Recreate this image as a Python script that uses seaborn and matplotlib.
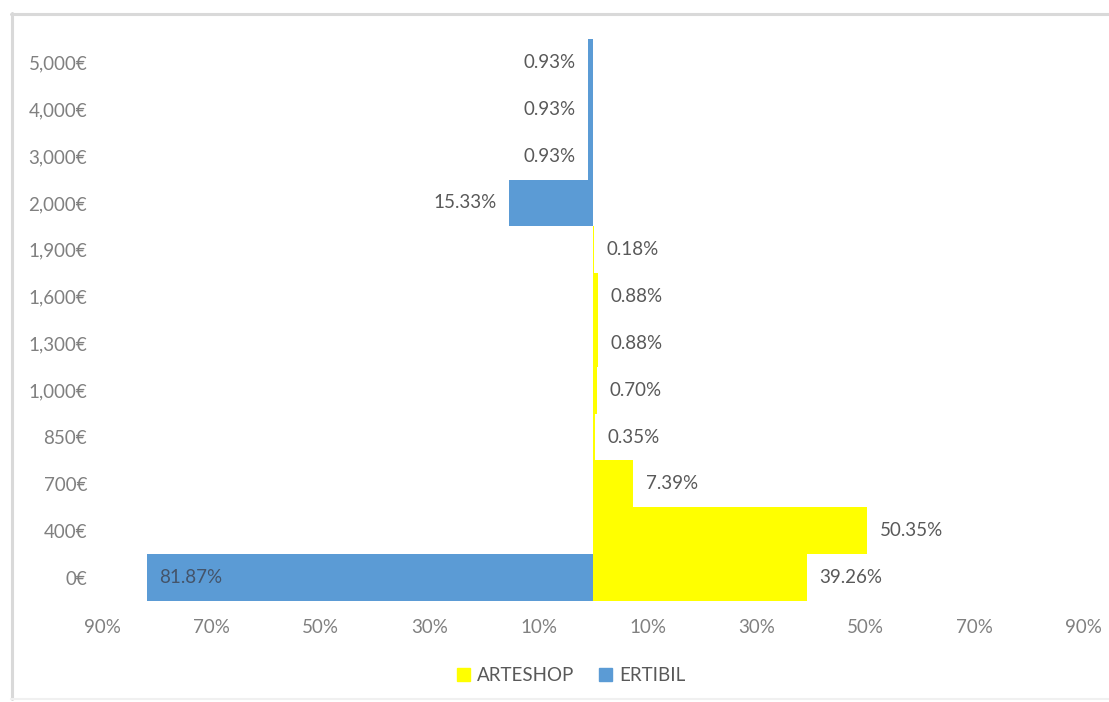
import matplotlib
matplotlib.use("Agg")
import matplotlib.pyplot as plt
import matplotlib.patches as mpatches
from matplotlib.lines import Line2D
import seaborn as sns
import pandas as pd

# Income brackets, bottom to top
brackets = ["0€", "400€", "700€", "850€", "1,000€", "1,300€", "1,600€",
            "1,900€", "2,000€", "3,000€", "4,000€", "5,000€"]
# Share of each bracket (%)
arteshop = [39.26, 50.35, 7.39, 0.35, 0.70, 0.88, 0.88, 0.18, 0, 0, 0, 0]
ertibil = [81.87, 0, 0, 0, 0, 0, 0, 0, 15.33, 0.93, 0.93, 0.93]

x_ticks = [-90, -70, -50, -30, -10, 10, 30, 50, 70, 90]

YELLOW = "#FFFF00"
BLUE = "#5B9BD5"
TEXT = "#595959"
TICK = "#808080"
FS = 13.5

sns.set_theme(style="white")
plt.rcParams["font.family"] = ["Lato", "DejaVu Sans"]

df = pd.DataFrame({"bracket": brackets, "ARTESHOP": arteshop,
                   "ERTIBIL": [-v for v in ertibil]})
order = brackets[::-1]  # seaborn puts the first category at the top

fig = plt.figure(figsize=(11.09, 7.02), dpi=100)
ax = fig.add_axes([0.0924, 0.1439, 0.8846, 0.8005])

sns.barplot(data=df, x="ARTESHOP", y="bracket", order=order, orient="h",
            color=YELLOW, width=1.0, saturation=1, ax=ax, label="ARTESHOP")
sns.barplot(data=df, x="ERTIBIL", y="bracket", order=order, orient="h",
            color=BLUE, width=1.0, saturation=1, ax=ax, label="ERTIBIL")

for patch in ax.patches:
    patch.set_linewidth(0)

ax.set_xlim(-90, 90)
ax.set_ylim(len(brackets) - 0.5, -0.5)
ax.set_xticks(x_ticks)
ax.set_xticklabels([f"{abs(t)}%" for t in x_ticks])
ax.set_xlabel("")
ax.set_ylabel("")
ax.tick_params(axis="x", length=0, pad=13, labelsize=FS, labelcolor=TICK)
ax.tick_params(axis="y", length=0, pad=11, labelsize=FS, labelcolor=TICK)
for side in ax.spines.values():
    side.set_visible(False)
if ax.get_legend() is not None:
    ax.get_legend().remove()

# Value labels
for name, val in zip(brackets, arteshop):
    if val > 0:
        ypos = order.index(name)
        ax.annotate(f"{val:.2f}%", (val, ypos), xytext=(9, 0),
                    textcoords="offset points", ha="left", va="center",
                    fontsize=FS, color=TEXT)
for name, val in zip(brackets, ertibil):
    if val <= 0:
        continue
    ypos = order.index(name)
    if val > 50:
        ax.annotate(f"{val:.2f}%", (-val, ypos), xytext=(9, 0),
                    textcoords="offset points", ha="left", va="center",
                    fontsize=FS, color="#44546A")
    else:
        ax.annotate(f"{val:.2f}%", (-val, ypos), xytext=(-9, 0),
                    textcoords="offset points", ha="right", va="center",
                    fontsize=FS, color=TEXT)

handles = [mpatches.Patch(color=YELLOW, label="ARTESHOP"),
           mpatches.Patch(color=BLUE, label="ERTIBIL")]
fig.legend(handles=handles, loc="center", bbox_to_anchor=(0.515, 0.038),
           ncol=2, frameon=False, fontsize=FS, labelcolor=TEXT,
           handlelength=0.7, handleheight=0.7, handletextpad=0.4,
           columnspacing=1.3)

# Chart border: top and left edges, faint bottom edge
W, H = 1109, 702
fig.lines.append(Line2D([11 / W, 1.0], [1 - 14 / H, 1 - 14 / H],
                        transform=fig.transFigure, color="#D9D9D9", lw=2.2))
fig.lines.append(Line2D([12 / W, 12 / W], [1 - 13 / H, 1 - 699 / H],
                        transform=fig.transFigure, color="#D9D9D9", lw=2.2))
fig.lines.append(Line2D([11 / W, 1.0], [1 - 699 / H, 1 - 699 / H],
                        transform=fig.transFigure, color="#F0F0F0", lw=1.5))

fig.savefig("out.png", dpi=100)
